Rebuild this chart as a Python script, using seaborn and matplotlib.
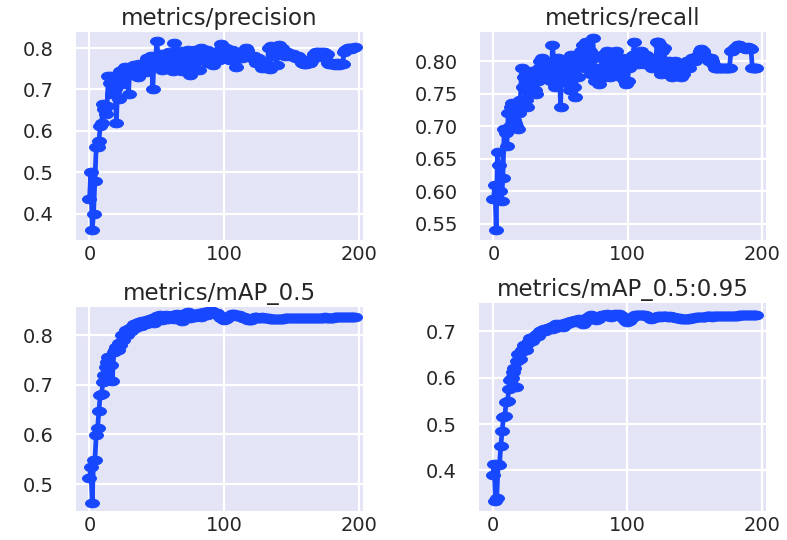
import matplotlib
matplotlib.use("Agg")
import matplotlib.pyplot as plt
from matplotlib.path import Path
from matplotlib.transforms import Affine2D
import seaborn as sns
import pandas as pd

titles = ["metrics/precision", "metrics/recall", "metrics/mAP_0.5", "metrics/mAP_0.5:0.95"]

precision = [
    0.435, 0.500, 0.360, 0.400, 0.478, 0.560, 0.562, 0.575, 0.612, 0.618,
    0.665, 0.652, 0.640, 0.660, 0.732, 0.715, 0.733, 0.690, 0.705, 0.700,
    0.620, 0.720, 0.678, 0.745, 0.748, 0.712, 0.755, 0.740, 0.752, 0.690,
    0.755, 0.745, 0.735, 0.758, 0.740, 0.752, 0.730, 0.762, 0.745, 0.755,
    0.748, 0.760, 0.742, 0.775, 0.765, 0.760, 0.780, 0.700, 0.775, 0.770,
    0.818, 0.775, 0.760, 0.785, 0.748, 0.772, 0.765, 0.778, 0.750, 0.790,
    0.760, 0.775, 0.745, 0.812, 0.760, 0.790, 0.770, 0.750, 0.792, 0.745,
    0.785, 0.775, 0.760, 0.795, 0.770, 0.735, 0.758, 0.780, 0.795, 0.770,
    0.785, 0.748, 0.775, 0.800, 0.790, 0.770, 0.785, 0.795, 0.765, 0.790,
    0.790, 0.780, 0.760, 0.775, 0.790, 0.782, 0.770, 0.795, 0.810, 0.785,
    0.790, 0.800, 0.775, 0.780, 0.770, 0.785, 0.795, 0.780, 0.770, 0.755,
    0.780, 0.790, 0.785, 0.775, 0.780, 0.790, 0.800, 0.795, 0.785, 0.780,
    0.778, 0.775, 0.780, 0.770, 0.765, 0.775, 0.770, 0.760, 0.752, 0.765,
    0.755, 0.752, 0.760, 0.800, 0.750, 0.805, 0.790, 0.780, 0.800, 0.760,
    0.805, 0.808, 0.790, 0.800, 0.785, 0.780, 0.785, 0.790, 0.785, 0.780,
    0.780, 0.785, 0.780, 0.775, 0.778, 0.780, 0.775, 0.768, 0.765, 0.762,
    0.765, 0.762, 0.765, 0.768, 0.765, 0.770, 0.775, 0.785, 0.790, 0.788,
    0.790, 0.788, 0.790, 0.785, 0.790, 0.775, 0.785, 0.765, 0.762, 0.762,
    0.765, 0.762, 0.760, 0.762, 0.765, 0.760, 0.762, 0.765, 0.762, 0.790,
    0.795, 0.798, 0.800, 0.800, 0.798, 0.800, 0.800, 0.802,
]

recall = [
    0.588, 0.610, 0.540, 0.660, 0.640, 0.600, 0.585, 0.620, 0.695, 0.690,
    0.670, 0.720, 0.700, 0.730, 0.735, 0.710, 0.705, 0.700, 0.695, 0.720,
    0.740, 0.790, 0.760, 0.775, 0.740, 0.730, 0.765, 0.760, 0.775, 0.785,
    0.780, 0.755, 0.750, 0.770, 0.790, 0.800, 0.805, 0.780, 0.795, 0.775,
    0.785, 0.790, 0.780, 0.770, 0.825, 0.800, 0.760, 0.785, 0.805, 0.795,
    0.730, 0.800, 0.790, 0.775, 0.770, 0.800, 0.765, 0.755, 0.810, 0.800,
    0.760, 0.745, 0.790, 0.775, 0.800, 0.815, 0.795, 0.825, 0.790, 0.830,
    0.800, 0.790, 0.815, 0.780, 0.835, 0.805, 0.770, 0.790, 0.770, 0.765,
    0.780, 0.810, 0.790, 0.775, 0.800, 0.815, 0.780, 0.775, 0.810, 0.795,
    0.780, 0.815, 0.790, 0.780, 0.800, 0.775, 0.805, 0.790, 0.770, 0.765,
    0.770, 0.790, 0.800, 0.805, 0.810, 0.830, 0.805, 0.800, 0.795, 0.810,
    0.815, 0.800, 0.795, 0.805, 0.810, 0.800, 0.800, 0.795, 0.790, 0.800,
    0.805, 0.800, 0.830, 0.830, 0.825, 0.780, 0.815, 0.820, 0.800, 0.785,
    0.780, 0.800, 0.790, 0.775, 0.780, 0.800, 0.795, 0.790, 0.785, 0.780,
    0.775, 0.780, 0.790, 0.795, 0.800, 0.795, 0.790, 0.800, 0.805, 0.800,
    0.800, 0.805, 0.808, 0.810, 0.815, 0.818, 0.815, 0.810, 0.808, 0.805,
    0.805, 0.800, 0.805, 0.800, 0.795, 0.790, 0.790, 0.790, 0.790, 0.790,
    0.790, 0.790, 0.790, 0.790, 0.790, 0.790, 0.790, 0.815, 0.815, 0.818,
    0.820, 0.822, 0.825, 0.825, 0.824, 0.822, 0.822, 0.820, 0.818, 0.820,
    0.822, 0.820, 0.818, 0.790, 0.790, 0.790, 0.790,
]

map50 = [
    0.512, 0.535, 0.462, 0.548, 0.548, 0.598, 0.612, 0.648, 0.680, 0.682,
    0.705, 0.720, 0.735, 0.745, 0.755, 0.710, 0.740, 0.708, 0.765, 0.770,
    0.775, 0.770, 0.785, 0.780, 0.800, 0.790, 0.805, 0.810, 0.800, 0.812,
    0.815, 0.808, 0.818, 0.822, 0.815, 0.825, 0.820, 0.826, 0.818, 0.828,
    0.825, 0.828, 0.822, 0.830, 0.826, 0.832, 0.828, 0.834, 0.825, 0.835,
    0.838, 0.832, 0.840, 0.835, 0.830, 0.838, 0.835, 0.840, 0.832, 0.836,
    0.838, 0.835, 0.840, 0.832, 0.838, 0.842, 0.836, 0.840, 0.835, 0.828,
    0.838, 0.843, 0.845, 0.846, 0.840, 0.835, 0.838, 0.842, 0.836, 0.840,
    0.843, 0.845, 0.840, 0.836, 0.842, 0.846, 0.845, 0.840, 0.846, 0.848,
    0.845, 0.848, 0.846, 0.842, 0.844, 0.845, 0.840, 0.836, 0.835, 0.832,
    0.830, 0.832, 0.835, 0.836, 0.838, 0.840, 0.842, 0.842, 0.840, 0.838,
    0.838, 0.840, 0.838, 0.836, 0.835, 0.836, 0.835, 0.833, 0.830, 0.830,
    0.831, 0.833, 0.835, 0.836, 0.836, 0.835, 0.834, 0.835, 0.836, 0.835,
    0.835, 0.835, 0.834, 0.834, 0.833, 0.833, 0.833, 0.833, 0.832, 0.832,
    0.832, 0.833, 0.833, 0.833, 0.833, 0.834, 0.834, 0.834, 0.834, 0.834,
    0.834, 0.834, 0.834, 0.835, 0.835, 0.835, 0.835, 0.835, 0.834, 0.834,
    0.834, 0.835, 0.835, 0.835, 0.835, 0.835, 0.835, 0.835, 0.835, 0.835,
    0.835, 0.835, 0.835, 0.835, 0.835, 0.836, 0.835, 0.835, 0.835, 0.835,
    0.835, 0.835, 0.836, 0.836, 0.836, 0.836, 0.836, 0.836, 0.836, 0.836,
    0.836, 0.836, 0.837, 0.837, 0.837, 0.837, 0.837, 0.836,
]

map50_95 = [
    0.390, 0.415, 0.335, 0.340, 0.415, 0.412, 0.452, 0.485, 0.515, 0.518,
    0.548, 0.550, 0.575, 0.595, 0.600, 0.612, 0.620, 0.580, 0.635, 0.650,
    0.640, 0.655, 0.660, 0.670, 0.665, 0.660, 0.675, 0.680, 0.685, 0.680,
    0.688, 0.685, 0.692, 0.695, 0.690, 0.700, 0.698, 0.702, 0.705, 0.700,
    0.705, 0.708, 0.706, 0.710, 0.705, 0.712, 0.708, 0.715, 0.712, 0.714,
    0.715, 0.712, 0.710, 0.716, 0.718, 0.715, 0.720, 0.718, 0.722, 0.720,
    0.722, 0.724, 0.720, 0.723, 0.726, 0.722, 0.725, 0.716, 0.718, 0.725,
    0.728, 0.730, 0.732, 0.734, 0.733, 0.730, 0.728, 0.724, 0.726, 0.730,
    0.732, 0.734, 0.736, 0.735, 0.732, 0.737, 0.736, 0.733, 0.730, 0.735,
    0.736, 0.737, 0.736, 0.734, 0.737, 0.735, 0.732, 0.728, 0.725, 0.722,
    0.721, 0.722, 0.725, 0.728, 0.730, 0.732, 0.734, 0.735, 0.735, 0.734,
    0.735, 0.736, 0.735, 0.734, 0.733, 0.732, 0.730, 0.728, 0.727, 0.728,
    0.729, 0.730, 0.731, 0.732, 0.732, 0.731, 0.732, 0.733, 0.733, 0.732,
    0.731, 0.731, 0.732, 0.731, 0.730, 0.730, 0.729, 0.729, 0.728, 0.728,
    0.727, 0.727, 0.726, 0.726, 0.726, 0.727, 0.727, 0.728, 0.728, 0.729,
    0.729, 0.730, 0.730, 0.730, 0.731, 0.731, 0.731, 0.731, 0.731, 0.732,
    0.732, 0.732, 0.732, 0.731, 0.732, 0.732, 0.732, 0.733, 0.733, 0.732,
    0.732, 0.732, 0.733, 0.733, 0.733, 0.733, 0.732, 0.733, 0.733, 0.733,
    0.733, 0.733, 0.733, 0.734, 0.734, 0.734, 0.734, 0.734, 0.734, 0.734,
    0.734, 0.734, 0.734, 0.734, 0.734, 0.734, 0.734,
]

series = [precision, recall, map50, map50_95]
yticks = [
    [0.4, 0.5, 0.6, 0.7, 0.8],
    [0.55, 0.60, 0.65, 0.70, 0.75, 0.80],
    [0.5, 0.6, 0.7, 0.8],
    [0.4, 0.5, 0.6, 0.7],
]
ytick_labels = [
    ["0.4", "0.5", "0.6", "0.7", "0.8"],
    ["0.55", "0.60", "0.65", "0.70", "0.75", "0.80"],
    ["0.5", "0.6", "0.7", "0.8"],
    ["0.4", "0.5", "0.6", "0.7"],
]
xticks = [0, 100, 200]
xtick_labels = ["0", "100", "200"]

# layout / style
ylims = [(0.337, 0.839), (0.525, 0.845), (0.446, 0.856), (0.313, 0.761)]
rects = [
    [0.0966, 0.556, 0.3645, 0.385],
    [0.610, 0.556, 0.363, 0.385],
    [0.0966, 0.054, 0.3645, 0.377],
    [0.609, 0.054, 0.364, 0.385],
]

sns.set_theme(style="darkgrid")
plt.rcParams["font.family"] = ["DejaVu Sans"]

# horizontally stretched round marker, as in the reference
ellipse = Path.unit_circle().transformed(Affine2D().scale(1.0, 0.62))

fig = plt.figure(figsize=(7.87, 5.40), dpi=100)
fig.patch.set_facecolor("white")
line_color = "#1747ff"

for i in range(4):
    ax = fig.add_axes(rects[i])
    ax.set_facecolor("#e4e4f7")
    vals = series[i]
    df = pd.DataFrame({"epoch": list(range(len(vals))), "value": vals})
    sns.lineplot(data=df, x="epoch", y="value", ax=ax, color=line_color,
                 marker=ellipse, markersize=10, linewidth=3.4,
                 markeredgecolor=line_color, estimator=None)
    ax.set_xlim(-10, 203)
    ax.set_ylim(*ylims[i])
    ax.set_xticks(xticks)
    ax.set_xticklabels(xtick_labels)
    ax.set_yticks(yticks[i])
    ax.set_yticklabels(ytick_labels[i])
    ax.set_xlabel("")
    ax.set_ylabel("")
    ax.grid(True, color="white", linewidth=1.6)
    ax.tick_params(axis="y", labelsize=14, colors="#262626", pad=16, length=0)
    ax.tick_params(axis="x", labelsize=14, colors="#262626", pad=4, length=0)
    ax.set_title(titles[i], fontsize=16.5, color="#262626", pad=5)
    for s in ax.spines.values():
        s.set_visible(False)

fig.savefig("out.png", dpi=100, facecolor="white")
